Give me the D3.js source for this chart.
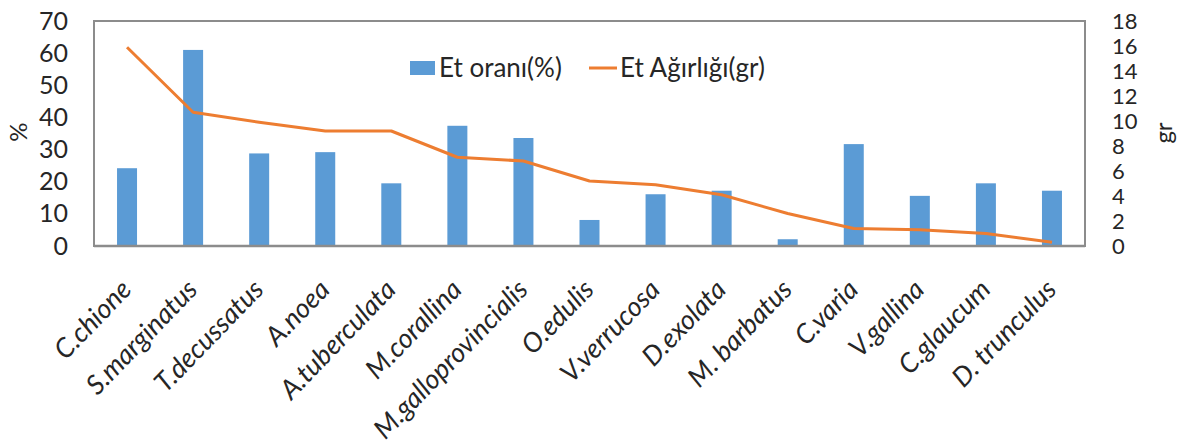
<!DOCTYPE html>
<html><head><meta charset="utf-8">
<script src="https://cdn.jsdelivr.net/npm/d3@7"></script>
<style>body{margin:0;background:#fff}svg{display:block}text{font-family:Lato,"Open Sans",sans-serif;fill:#262626}</style>
</head><body><svg id="c" width="1186" height="445"></svg>
<script>
const categories = ["C.chione","S.marginatus","T.decussatus","A.noea","A.tuberculata","M.corallina","M.galloprovincialis","O.edulis","V.verrucosa","D.exolata","M. barbatus","C.varia","V.gallina","C.glaucum","D. trunculus"];
const etOrani = [24.2,61.0,28.8,29.2,19.5,37.4,33.6,8.1,16.1,17.2,2.1,31.7,15.6,19.5,17.2];
const etAgirligi = [15.9,10.7,9.9,9.2,9.2,7.1,6.8,5.2,4.9,4.1,2.6,1.4,1.3,1.0,0.3];
const leftTicks = [0,10,20,30,40,50,60,70];
const rightTicks = [0,2,4,6,8,10,12,14,16,18];
const seriesNames = ["Et oranı(%)","Et Ağırlığı(gr)"];

const svg = d3.select("#c");
const L=94, R=1085, T=21, B=246;
const xc = d3.scaleBand().domain(categories).range([L,R]);
const yL = d3.scaleLinear().domain([0,70]).range([B,T]);
const yR = d3.scaleLinear().domain([0,18]).range([B,T]);
const cx = d => xc(d)+xc.bandwidth()/2;

// frame
svg.append("rect").attr("x",L).attr("y",T).attr("width",R-L).attr("height",B-T)
  .attr("fill","none").attr("stroke","#8c8c8c").attr("stroke-width",2);

// bars
svg.append("g").selectAll("rect").data(categories).join("rect")
  .attr("x",d=>cx(d)-10).attr("width",20)
  .attr("y",(d,i)=>yL(etOrani[i])).attr("height",(d,i)=>B-yL(etOrani[i]))
  .attr("fill","#5b9bd5");

// bottom axis line
svg.append("line").attr("x1",L).attr("x2",R).attr("y1",B).attr("y2",B).attr("stroke","#8c8c8c").attr("stroke-width",2.5);

// line
const line = d3.line().x((d,i)=>cx(categories[i])).y(d=>yR(d));
svg.append("path").datum(etAgirligi).attr("d",line).attr("fill","none")
  .attr("stroke","#ed7d31").attr("stroke-width",3).attr("stroke-linejoin","round");

// left axis
const gl = svg.append("g").attr("transform",`translate(${L},0)`)
  .call(d3.axisLeft(yL).tickValues(leftTicks).tickSize(0).tickPadding(26));
gl.select(".domain").remove();
gl.selectAll("text").attr("font-size",25).attr("fill","#262626").style("font-family","Lato");

const gr = svg.append("g").attr("transform",`translate(${R},0)`)
  .call(d3.axisRight(yR).tickValues(rightTicks).tickSize(0).tickPadding(27));
gr.select(".domain").remove();
gr.selectAll("text").attr("font-size",22).attr("fill","#262626").style("font-family","Lato");

// axis titles
svg.append("text").attr("transform","translate(27,132) rotate(-90)").attr("text-anchor","middle")
  .attr("font-size",24).text("%");
svg.append("text").attr("transform","translate(1172,133) rotate(-90)").attr("text-anchor","middle")
  .attr("font-size",24).text("gr");

// x labels
svg.append("g").selectAll("text").data(categories).join("text")
  .attr("transform",d=>`translate(${cx(d)+6},${291}) rotate(-46)`)
  .attr("text-anchor","end").attr("font-size",27).attr("font-style","italic").text(d=>d);

// legend
const lg = svg.append("g");
lg.append("rect").attr("x",410).attr("y",61).attr("width",25).attr("height",14).attr("fill","#5b9bd5");
lg.append("text").attr("x",439).attr("y",77).attr("font-size",26).text(seriesNames[0]);
lg.append("line").attr("x1",589).attr("x2",617).attr("y1",68).attr("y2",68).attr("stroke","#ed7d31").attr("stroke-width",3);
lg.append("text").attr("x",620).attr("y",77).attr("font-size",26).text(seriesNames[1]);
</script></body></html>
